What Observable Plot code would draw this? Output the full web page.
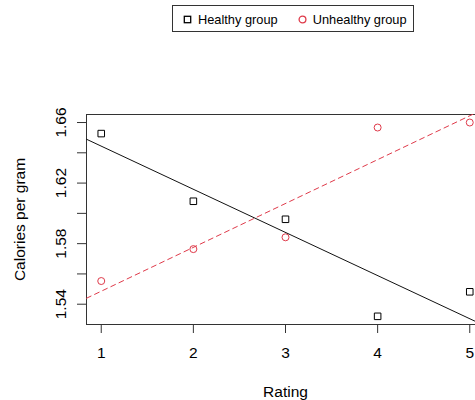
<!DOCTYPE html>
<html><head><meta charset="utf-8">
<script src="https://cdn.jsdelivr.net/npm/d3@7"></script>
<script src="https://cdn.jsdelivr.net/npm/@observablehq/plot@0.6"></script>
<style>
html,body{margin:0;padding:0;background:#fff;overflow:hidden;}
#wrap{width:475px;height:400px;overflow:hidden;font-family:"Liberation Sans",Arial,Helvetica,sans-serif;}
#legend{position:relative;height:40px;}
#legend .box{position:absolute;left:172px;top:5px;width:240px;height:24px;border:1px solid #333;display:flex;align-items:center;font-size:12.8px;color:#000;box-sizing:content-box;padding-top:1px;}
#legend .item{display:flex;align-items:center;}
#legend svg{display:block;}
#chart svg{max-width:none !important;}
</style>
</head><body>
<div id="wrap"><div id="legend"><div class="box"></div></div><div id="chart"></div></div>
<script>
const ratings = [1, 2, 3, 4, 5];
const healthy = [1.6527, 1.608, 1.5961, 1.532, 1.5482];
const unhealthy = [1.5553, 1.5764, 1.5842, 1.6567, 1.66];
const groups = ["Healthy group", "Unhealthy group"];
const groupColors = ["#000000", "#DF3A4A"];
const groupSymbols = ["square", "circle"];
const xTicks = [1, 2, 3, 4, 5];
const yTicks = [1.54, 1.56, 1.58, 1.60, 1.62, 1.64, 1.66];
const yTickLabels = ["1.54", "", "1.58", "", "1.62", "", "1.66"];
const xDomain = [0.84, 5.16];
const yDomain = [1.5266, 1.6653];
const xLabel = "Rating";
const yLabel = "Calories per gram";

function fit(xs, ys) {
  const mx = d3.mean(xs), my = d3.mean(ys);
  const b = d3.sum(xs, (x, i) => (x - mx) * (ys[i] - my)) / d3.sum(xs, x => (x - mx) ** 2);
  const a = my - b * mx;
  return xDomain.map(x => ({x, y: a + b * x}));
}
const healthyData = ratings.map((r, i) => ({x: r, y: healthy[i]}));
const unhealthyData = ratings.map((r, i) => ({x: r, y: unhealthy[i]}));
const healthyFit = fit(ratings, healthy);
const unhealthyFit = fit(ratings, unhealthy);

// legend
const box = document.querySelector("#legend .box");
const gaps = [[10, 6], [20, 6]];
groups.forEach((g, i) => {
  const item = document.createElement("div");
  item.className = "item";
  item.style.marginLeft = gaps[i][0] + "px";
  const sw = groupSymbols[i] === "square"
    ? `<svg width="9" height="9"><rect x="1.3" y="1.3" width="6.4" height="6.4" fill="none" stroke="${groupColors[i]}" stroke-width="1.3"/></svg>`
    : `<svg width="9" height="9"><circle cx="4.5" cy="4.5" r="3.4" fill="none" stroke="${groupColors[i]}" stroke-width="1.3"/></svg>`;
  item.innerHTML = sw + `<span style="margin-left:${gaps[i][1]}px">${g}</span>`;
  box.appendChild(item);
});

const chart = Plot.plot({
  width: 490,
  height: 360,
  marginLeft: 86,
  marginRight: 6,
  marginTop: 74,
  marginBottom: 76,
  style: {fontFamily: '"Liberation Sans", Arial, Helvetica, sans-serif', fontSize: "15.5px", color: "#000", background: "#fff", overflow: "visible", maxWidth: "none"},
  x: {domain: xDomain},
  y: {domain: yDomain},
  marks: [
    Plot.frame({stroke: "#333"}),
    Plot.axisX({ticks: xTicks, tickSize: 9, tickPadding: 13, tickFormat: d => String(d), stroke: "#333",
      label: xLabel, labelAnchor: "center", labelOffset: 72, labelArrow: "none"}),
    Plot.axisY({ticks: yTicks, tickSize: 9, tickRotate: -90, tickPadding: 12, stroke: "#333",
      tickFormat: d => yTickLabels[yTicks.indexOf(d)],
      label: yLabel, labelAnchor: "center", labelOffset: 73, labelArrow: "none"}),
    Plot.dot(healthyData, {x: "x", y: "y", symbol: "square", r: 3.7, stroke: groupColors[0], fill: "none", strokeWidth: 1}),
    Plot.dot(unhealthyData, {x: "x", y: "y", symbol: "circle", r: 3.5, stroke: groupColors[1], fill: "none", strokeWidth: 1}),
    Plot.line(healthyFit, {x: "x", y: "y", stroke: "#111", strokeWidth: 1, clip: true}),
    Plot.line(unhealthyFit, {x: "x", y: "y", stroke: groupColors[1], strokeWidth: 1, strokeDasharray: "5,4", clip: true})
  ]
});
document.getElementById("chart").appendChild(chart);
</script>
</body></html>
